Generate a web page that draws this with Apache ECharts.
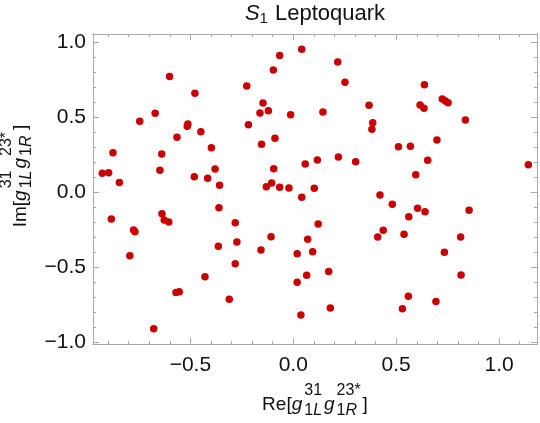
<!DOCTYPE html>
<html><head><meta charset="utf-8">
<script src="https://cdn.jsdelivr.net/npm/echarts@6/dist/echarts.min.js"></script>
<style>html,body{margin:0;padding:0;background:#fff}#c{width:540px;height:423px}</style>
</head><body><div id="c"></div>
<script>
// ---- data ----
const reValues = [
 -0.601,-0.226,-0.478,-0.671,-0.746,-0.512,-0.515,-0.218,-0.449,-0.565,
 -0.398,-0.876,-0.639,-0.648,-0.380,-0.928,-0.897,-0.845,-0.481,-0.416,
 -0.358, 0.041,-0.066, 0.216,-0.097, 0.251,-0.147,-0.162,-0.121,-0.013,
  0.144, 0.368, 0.386, 0.382,-0.089,-0.154, 0.511, 0.219, 0.117, 0.058,
  0.303,-0.095,-0.105,-0.131,-0.066,-0.021, 0.102, 0.421, 0.041, 0.637,
  0.724, 0.739, 0.752, 0.616, 0.635, 0.836, 0.698, 0.569, 0.653, 0.595,
  1.142,-0.361,-0.884,-0.638,-0.627,-0.605,-0.282,-0.769,-0.776,-0.274,
 -0.364,-0.794,-0.282,-0.429,-0.570,-0.554,-0.311,-0.678, 0.481, 0.121,
 -0.108, 0.070,-0.157, 0.019, 0.094, 0.437, 0.410, 0.172, 0.065, 0.019,
  0.180, 0.037, 0.530, 0.604, 0.640, 0.561, 0.854, 0.538, 0.813, 0.734,
  0.815, 0.559, 0.693
];
const imValues = [
  0.773, 0.711, 0.662, 0.529, 0.475, 0.457, 0.442, 0.453, 0.406, 0.369,
  0.299, 0.266, 0.257, 0.149, 0.157, 0.129, 0.133, 0.067, 0.106, 0.095,
  0.049, 0.955, 0.913, 0.871, 0.817, 0.735, 0.597, 0.531, 0.546, 0.519,
  0.537, 0.582, 0.466, 0.422, 0.362, 0.322, 0.306, 0.237, 0.217, 0.191,
  0.206, 0.159, 0.064, 0.039, 0.035, 0.031, 0.029,-0.016,-0.031, 0.719,
  0.624, 0.611, 0.599, 0.584, 0.562, 0.484, 0.351, 0.309, 0.215, 0.119,
  0.186,-0.101,-0.176,-0.141,-0.183,-0.196,-0.201,-0.261,-0.249,-0.329,
 -0.358,-0.421,-0.474,-0.561,-0.665,-0.661,-0.711,-0.907,-0.077,-0.209,
 -0.294,-0.311,-0.383,-0.407,-0.394,-0.251,-0.296,-0.525,-0.551,-0.598,
 -0.769,-0.816,-0.774,-0.105,-0.127,-0.161,-0.118,-0.278,-0.296,-0.398,
 -0.549,-0.691,-0.725
];
const xMajorTicks = [-0.5, 0, 0.5, 1.0];
const xMajorLabels = ['\u22120.5', '0.0', '0.5', '1.0'];
const xMinorTicks = [-0.9,-0.8,-0.7,-0.6,-0.4,-0.3,-0.2,-0.1,0.1,0.2,0.3,0.4,0.6,0.7,0.8,0.9,1.1];
const yMajorTicks = [-1.0, -0.5, 0, 0.5, 1.0];
const yMajorLabels = ['\u22121.0', '\u22120.5', '0.0', '0.5', '1.0'];
const yMinorTicks = [-0.9,-0.8,-0.7,-0.6,-0.4,-0.3,-0.2,-0.1,0.1,0.2,0.3,0.4,0.6,0.7,0.8,0.9];
const xRange = [-0.973, 1.184];
const yRange = [-1.009, 1.057];
const titleSegs = [{t:'S', it:true}, {sub:[{t:'1'}], pad:1}, {t:' Leptoquark'}];
const xNameSegs = [{t:'Re['}, {t:'g', it:true, pad:2}, {sup:[{t:'31'}], sub:[{t:'1'},{t:'L', it:true}], pad:2},
                   {t:'g', it:true, pad:2}, {sup:[{t:'23*'}], sub:[{t:'1'},{t:'R', it:true}], pad:2}, {t:']'}];
const yNameSegs = [{t:'Im['}, {t:'g', it:true, pad:2}, {sup:[{t:'31'}], sub:[{t:'1'},{t:'L', it:true}], pad:2},
                   {t:'g', it:true, pad:2}, {sup:[{t:'23*'}], sub:[{t:'1'},{t:'R', it:true}], pad:2}, {t:']'}];

// ---- styling / layout ----
const FONT = '"Liberation Sans", Arial, Helvetica, sans-serif';
const FRAME = '#a8a8a8';
const TXT = '#111';
const meas = document.createElement('canvas').getContext('2d');
function fnt(size, it) { return (it ? 'italic ' : '') + size + 'px ' + FONT; }
function tw(t, size, it) { meas.font = fnt(size, it); return meas.measureText(t).width; }
function buildLabel(segs, cfg) {
  const items = []; let x = 0;
  function runs(rs, size, dy, x0) {
    let xx = x0;
    rs.forEach(r => { items.push({t:r.t, it:r.it, size, x:xx, y:dy}); xx += tw(r.t, size, r.it); });
    return xx - x0;
  }
  segs.forEach(s => {
    if (s.t !== undefined) x += runs([s], cfg.main, 0, x);
    else {
      const a = s.sup ? runs(s.sup, cfg.script, cfg.supDy, x) : 0;
      const b = s.sub ? runs(s.sub, cfg.script, cfg.subDy, x) : 0;
      x += Math.max(a, b);
    }
    x += (s.pad || 0);
  });
  return {items, width: x};
}
function toGraphic(lbl, cx, cy, rot) {
  return {type:'group', x:cx, y:cy, rotation: rot || 0,
    children: lbl.items.map(it => ({type:'text', x: it.x - lbl.width / 2, y: it.y,
      style:{text: it.t, font: fnt(it.size, it.it), fill: TXT, align:'left', verticalAlign:'middle'}}))};
}
function lookup(ticks, labels) {
  return v => { const i = ticks.findIndex(t => Math.abs(t - v) < 1e-9); return i >= 0 ? labels[i] : ''; };
}
function axis(dim, pos, ticks, len, labels, labelTicks) {
  const r = dim === 'x' ? xRange : yRange;
  const a = {type:'value', position: pos, min: r[0], max: r[1],
    axisLine:{show:true, onZero:false, lineStyle:{color: FRAME, width: 1}},
    axisTick:{show:true, inside:true, length: len, customValues: ticks, lineStyle:{color: FRAME, width: 1}},
    splitLine:{show:false}, minorTick:{show:false}, axisPointer:{show:false}};
  if (labels) {
    a.axisLabel = {show:true, customValues: labelTicks, formatter: lookup(labelTicks, labels),
      fontSize: 21, fontFamily: FONT, color: TXT, margin: dim === 'x' ? 11 : 7};
  } else a.axisLabel = {show:false};
  return a;
}

const chart = echarts.init(document.getElementById('c'), null, {renderer:'canvas'});
const points = reValues.map((v, i) => [v, imValues[i]]);
chart.setOption({
  animation: false,
  backgroundColor: '#fff',
  grid: {left: 93, top: 34, width: 444, height: 310, containLabel: false},
  xAxis: [
    axis('x', 'bottom', xMajorTicks, 6, xMajorLabels, xMajorTicks),
    axis('x', 'bottom', xMinorTicks, 3),
    axis('x', 'top', xMajorTicks, 6),
    axis('x', 'top', xMinorTicks, 3)
  ],
  yAxis: [
    axis('y', 'left', yMajorTicks, 6, yMajorLabels, yMajorTicks),
    axis('y', 'left', yMinorTicks, 3),
    axis('y', 'right', yMajorTicks, 6),
    axis('y', 'right', yMinorTicks, 3)
  ],
  series: [{type:'scatter', xAxisIndex:0, yAxisIndex:0, data: points, symbol:'circle', symbolSize: 7.5,
    itemStyle:{color:'#c90000', opacity:1}, emphasis:{disabled:true}}],
  graphic: [
    toGraphic(buildLabel(titleSegs, {main:22, script:15, subDy:5}), 315, 14),
    toGraphic(buildLabel(xNameSegs, {main:19, script:16, supDy:-14, subDy:6}), 315, 405),
    toGraphic(buildLabel(yNameSegs, {main:19, script:16, supDy:-14, subDy:6}), 21, 176, Math.PI / 2)
  ]
});
</script></body></html>
